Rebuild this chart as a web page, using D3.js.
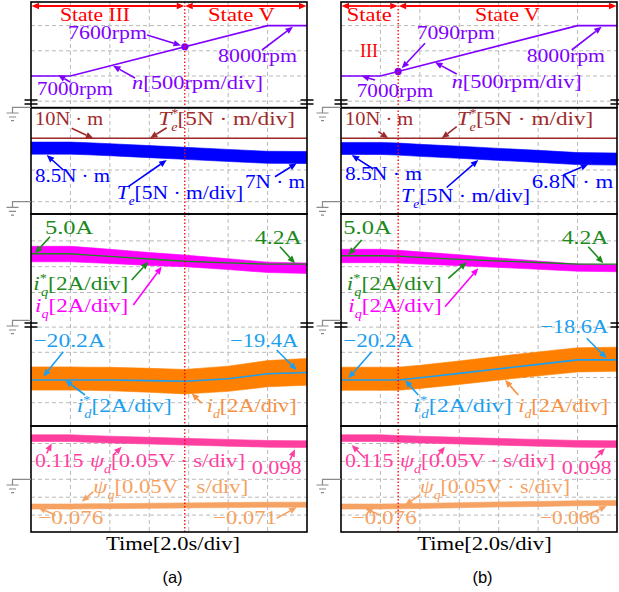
<!DOCTYPE html>
<html><head><meta charset="utf-8">
<script src="https://cdn.jsdelivr.net/npm/d3@7"></script>
<style>body{margin:0;background:#fff}svg{display:block}</style>
</head><body><svg id="c" width="619" height="592"></svg>
<script>
// ================= DATA =================
const timeTicks = [0, 2, 4, 6, 8, 10, 12, 14];          // s (2.0 s/div)
const sampleT   = [0, 2, 2.9, 4, 6, 7.8, 10, 12, 14];   // s
const stateSwitchA = 7.8, stateSwitchB = 2.9;           // s
const speedT = [0, 2, 12, 14];
const speedA = [7000, 7000, 8000, 8000];                // rpm
const speedB = [7000, 7000, 8000, 8000];
const teRef  = 10;                                      // N·m
const teA    = [8.45, 8.45, 8.35, 8.2, 7.9, 7.63, 7.3, 7.0, 6.97];
const teB    = [8.4, 8.4, 8.3, 8.1, 7.8, 7.5, 7.15, 6.8, 6.72];
const teSpread = 0.95;
const iqRefA = [5.0, 5.0, 4.9, 4.8, 4.6, 4.42, 4.3, 4.2, 4.2];      // A
const iqA    = [4.98, 4.98, 4.9, 4.8, 4.6, 4.45, 4.2, 3.95, 3.88];
const iqSpreadA = [0.6, 0.6, 0.58, 0.55, 0.5, 0.45, 0.42, 0.4, 0.4];
const iqRefB = [4.85, 4.85, 4.82, 4.72, 4.57, 4.45, 4.32, 4.2, 4.2];
const iqB    = [4.83, 4.83, 4.78, 4.68, 4.5, 4.33, 4.12, 3.93, 3.88];
const iqSpreadB = [0.52, 0.52, 0.5, 0.47, 0.42, 0.37, 0.32, 0.28, 0.27];
const idRefA = [-20.2, -20.2, -20.2, -20.2, -20.25, -20.3, -20.1, -19.7, -19.6];
const idA    = [-20.08, -20.08, -20.1, -20.12, -20.22, -20.33, -20.1, -19.7, -19.55];
const idSpreadA = [0.92, 0.92, 0.92, 0.93, 0.95, 0.97, 1.0, 1.04, 1.06];
const idRefB = [-20.2, -20.2, -20.2, -20.02, -19.67, -19.35, -18.96, -18.6, -18.6];
const idB    = [-20.1, -20.1, -20.1, -19.95, -19.62, -19.3, -18.92, -18.6, -18.55];
const idSpreadB = [0.92, 0.92, 0.92, 0.92, 0.93, 0.94, 0.95, 0.96, 0.96];
const psiDA = [0.115, 0.115, 0.113, 0.111, 0.108, 0.105, 0.102, 0.099, 0.098];   // V·s
const psiDB = [0.115, 0.115, 0.113, 0.111, 0.108, 0.105, 0.102, 0.099, 0.098];
const psiQA = [-0.076, -0.076, -0.0755, -0.075, -0.074, -0.073, -0.072, -0.071, -0.071];
const psiQB = [-0.076, -0.076, -0.0755, -0.0745, -0.0725, -0.0705, -0.069, -0.067, -0.066];
const psiDSpread = 0.0094, psiQSpread = 0.007;
// grid levels (one division each)
const speedGrid = [6500, 7000, 7500, 8000];
const torqueGrid = [0, 5, 10];
const iqGrid = [2, 4, 6];
const idGrid = [-16, -18, -20, -22];
const psiGrid = [0.1, 0.05, 0, -0.05, -0.1];

// ================= LAYOUT =================
const C = {
  red: '#ff0000', purple: '#7f00ff', teRef: '#9e2b2b', te: '#0000ff',
  iqRef: '#1b8a1b', iq: '#ff00ff', idRef: '#1c9ff0', id: '#ff8000', idTxt: '#f89040',
  psiD: '#ff3fa0', psiQ: '#f5a262', grid: '#b9b9b9', gnd: '#8a8a8a'
};
const PW = 276;
const boxes = [[2, 107.7], [107.7, 214], [214, 426], [426, 532]];
const yA = d3.scaleLinear().domain([7000, 8000]).range([76, 25.6]);
const yB = d3.scaleLinear().domain([0, 10]).range([201.7, 138.3]);
const yQ = d3.scaleLinear().domain([4, 5]).range([266.7, 253.8]);
const yD = d3.scaleLinear().domain([-20, -18]).range([377.5, 352.3]);
const yP = d3.scaleLinear().domain([0, 0.1]).range([479.3, 443.5]);

const svg = d3.select('#c');
const FONT = "'Liberation Serif','DejaVu Serif',serif";

const R = (t) => [t, 'r'], I = (t) => [t, 'i'], SB = (t, dx) => [t, 'b', dx], SP = (t) => [t, 'p'];

const labelsA = [
  {s:[R('State III')], c:C.red, x:29, y:20.7, w:70},
  {s:[R('State V')], c:C.red, x:177, y:20.7, w:67},
  {s:[R('7600rpm')], c:C.purple, x:37, y:39.3, w:79, ar:[116,35,150,45.5]},
  {s:[R('8000rpm')], c:C.purple, x:187, y:61.7, w:79, ar:[231,50,262,26.7]},
  {s:[R('7000rpm')], c:C.purple, x:6, y:95, w:76, ar:[39,82,27,75]},
  {s:[I('n'), R('[500rpm/div]')], c:C.purple, x:101, y:89, w:131, ar:[104,78,82,65.7]},
  {s:[R('10N · m')], c:C.teRef, x:4, y:125, w:68, ar:[40.7,128.3,62.3,138.3]},
  {s:[I('T'), SP('*'), SB('e', -6), R('[5N · m/div]')], c:C.teRef, x:127.3, y:125, w:136.7, ar:[135.7,127.7,119,138.3]},
  {s:[R('8.5N · m')], c:C.te, x:4, y:182.3, w:75, ar:[32.3,170,15.7,155]},
  {s:[I('T'), SB('e'), R('[5N · m/div]')], c:C.te, x:85.7, y:199.3, w:126.6, ar:[97.3,186.7,135.7,160]},
  {s:[R('7N · m')], c:C.te, x:214, y:188.3, w:60, ar:[244,176.7,265.7,163.3]},
  {s:[R('5.0A')], c:C.iqRef, x:14, y:234, w:48.3, ar:[19,236.7,4,253.3]},
  {s:[R('4.2A')], c:C.iqRef, x:224, y:244, w:46.7, ar:[249,246.7,264,263.3]},
  {s:[I('i'), SP('*'), SB('q', -5), R('[2A/div]')], c:C.iqRef, x:2.3, y:290, w:95, ar:[100.7,280,117.3,261.7]},
  {s:[I('i'), SB('q'), R('[2A/div]')], c:C.iq, x:4, y:311.7, w:93.3, ar:[102.3,305,130.7,266.7]},
  {s:[R('−20.2A')], c:C.idRef, x:2.3, y:346.7, w:71.7, ar:[32.3,351.7,12.3,376.7]},
  {s:[R('−19.4A')], c:C.idRef, x:199, y:346.7, w:68.3, ar:[245.7,350,265.7,370]},
  {s:[I('i'), SP('*'), SB('d', -5), R('[2A/div]')], c:C.idRef, x:45.7, y:411.7, w:95, ar:[54,395,34,380]},
  {s:[I('i'), SB('d'), R('[2A/div]')], c:C.idTxt, x:175.7, y:411.7, w:90, ar:[170.7,403.3,160.7,393.3]},
  {s:[R('0.115')], c:C.psiD, x:4, y:466.7, w:48.3, ar:[15.7,453.3,20.7,443.3]},
  {s:[I('ψ'), SB('d'), R('[0.05V · s/div]')], c:C.psiD, x:59, y:466.7, w:155, ar:[82.3,455,90.7,446.7]},
  {s:[R('0.098')], c:C.psiD, x:220.7, y:474, w:50, ar:[259,460,264,449.3]},
  {s:[I('ψ'), SB('q'), R('[0.05V · s/div]')], c:C.psiQ, x:62.3, y:492.7, w:155, ar:[62.3,491.7,50.7,501.7]},
  {s:[R('−0.076')], c:C.psiQ, x:7.3, y:524, w:65, ar:[24,515,7.3,507.3]},
  {s:[R('−0.071')], c:C.psiQ, x:182.3, y:524, w:63.4, ar:[245.7,518.3,265.7,507.3]},
  {s:[R('Time[2.0s/div]')], c:'#000', x:75, y:550, w:134}
];
const labelsB = [
  {s:[R('State')], c:C.red, x:5.7, y:20.7, w:45},
  {s:[R('III')], c:C.red, x:19, y:56.7, w:18},
  {s:[R('State V')], c:C.red, x:134, y:20.7, w:65},
  {s:[R('7090rpm')], c:C.purple, x:75.7, y:39.3, w:78.3, ar:[84,43.3,60.7,68.3]},
  {s:[R('8000rpm')], c:C.purple, x:185.7, y:62, w:78.3, ar:[230.7,50,260.7,26.7]},
  {s:[R('7000rpm')], c:C.purple, x:15.7, y:97, w:76.6, ar:[34,80,20.7,76]},
  {s:[I('n'), R('[500rpm/div]')], c:C.purple, x:110.7, y:88.3, w:130, ar:[115.7,74,94,62.3]},
  {s:[R('10N · m')], c:C.teRef, x:4, y:125, w:68.3, ar:[37.3,131.7,47.3,138.3]},
  {s:[I('T'), SP('*'), SB('e', -6), R('[5N · m/div]')], c:C.teRef, x:115.7, y:125, w:136.6, ar:[115.7,126.7,100.7,138.3]},
  {s:[R('8.5N · m')], c:C.te, x:4, y:180.3, w:77, ar:[32.3,169,10.7,155]},
  {s:[I('T'), SB('e'), R('[5N · m/div]')], c:C.te, x:60, y:202.2, w:129, ar:[105.7,187.5,137.3,160]},
  {s:[R('6.8N · m')], c:C.te, x:190.7, y:188.3, w:81.6, ar:[222.3,175,247.3,164.3]},
  {s:[R('5.0A')], c:C.iqRef, x:2.3, y:234, w:48.4, ar:[20.7,240,7.3,255]},
  {s:[R('4.2A')], c:C.iqRef, x:220.7, y:244, w:46.6, ar:[247.3,246.7,262.3,263.3]},
  {s:[I('i'), SP('*'), SB('q', -5), R('[2A/div]')], c:C.iqRef, x:5.7, y:290, w:95, ar:[107.3,278.3,125.7,262.3]},
  {s:[I('i'), SB('q'), R('[2A/div]')], c:C.iq, x:7.3, y:311.7, w:93.4, ar:[104,306.7,137.3,268.3]},
  {s:[R('−18.6A')], c:C.idRef, x:199, y:333.3, w:68.3, ar:[245.7,338.3,265.7,358.3]},
  {s:[R('−20.2A')], c:C.idRef, x:2.3, y:346.7, w:70, ar:[30.7,351.7,7.3,378.3]},
  {s:[I('i'), SP('*'), SB('d', -5), R('[2A/div]')], c:C.idRef, x:72.3, y:411.7, w:98.4, ar:[77.3,395,64,380]},
  {s:[I('i'), SB('d'), R('[2A/div]')], c:C.idTxt, x:177.3, y:411.7, w:90, ar:[177.3,395,164,380]},
  {s:[R('0.115')], c:C.psiD, x:4, y:466.7, w:48.3, ar:[24,458.3,10.7,445]},
  {s:[I('ψ'), SB('d'), R('[0.05V · s/div]')], c:C.psiD, x:59, y:466.7, w:155, ar:[95.7,456.7,104,446.7]},
  {s:[R('0.098')], c:C.psiD, x:220.7, y:474, w:50, ar:[254,458.3,264,448.3]},
  {s:[I('ψ'), SB('q'), R('[0.05V · s/div]')], c:C.psiQ, x:79, y:492.7, w:150, ar:[79,495,64,505]},
  {s:[R('−0.076')], c:C.psiQ, x:10.7, y:524, w:65, ar:[39,515,24,508.3]},
  {s:[R('−0.066')], c:C.psiQ, x:199, y:524, w:60, ar:[242.3,516.7,265.7,506]},
  {s:[R('Time[2.0s/div]')], c:'#000', x:76.3, y:550, w:134.4}
];

const panels = [
  {x0:31, sw:stateSwitchA, speed:speedA, te:teA, iqRef:iqRefA, iq:iqA, iqS:iqSpreadA,
   idRef:idRefA, id:idA, idS:idSpreadA, pd:psiDA, pq:psiQA, labels:labelsA, tag:'(a)'},
  {x0:341, sw:stateSwitchB, speed:speedB, te:teB, iqRef:iqRefB, iq:iqB, iqS:iqSpreadB,
   idRef:idRefB, id:idB, idS:idSpreadB, pd:psiDB, pq:psiQB, labels:labelsB, tag:'(b)'}
];

function arrow(g, a, x0, col, w) {
  const [x1, y1, x2, y2] = [a[0] + x0, a[1], a[2] + x0, a[3]];
  const ang = Math.atan2(y2 - y1, x2 - x1), L = 7.5, hw = 3.2;
  const bx = x2 - L * Math.cos(ang), by = y2 - L * Math.sin(ang);
  g.append('line').attr('x1', x1).attr('y1', y1).attr('x2', bx).attr('y2', by)
    .attr('stroke', col).attr('stroke-width', w || 1.6);
  g.append('path').attr('fill', col).attr('d',
    `M${x2},${y2}L${bx + hw * Math.sin(ang)},${by - hw * Math.cos(ang)}L${bx - hw * Math.sin(ang)},${by + hw * Math.cos(ang)}Z`);
}

function addLabel(g, L, x0) {
  const t = g.append('text').attr('x', x0 + L.x).attr('y', L.y).attr('fill', L.c)
    .attr('font-family', FONT).attr('font-size', 19.5);
  let shift = 0;
  L.s.forEach(([txt, type, dx]) => {
    const ts = t.append('tspan').text(txt);
    const target = type === 'b' ? 6 : type === 'p' ? -8 : 0;
    ts.attr('dy', target - shift); shift = target;
    if (type === 'i' || type === 'b') ts.attr('font-style', 'italic');
    if (type === 'b' || type === 'p') ts.attr('font-size', 12);
    if (dx) ts.attr('dx', dx);
  });
  if (L.w) t.attr('textLength', L.w).attr('lengthAdjust', 'spacingAndGlyphs');
}

function ground(g, xf, y0) {
  const xg = xf - 18.5;
  g.append('path').attr('fill', 'none').attr('stroke', C.gnd).attr('stroke-width', 1.2)
    .attr('d', `M${xf},${y0}H${xg}V${y0 + 5.7}M${xg - 6},${y0 + 5.7}H${xg + 6}M${xg - 3.5},${y0 + 9.7}H${xg + 3.5}M${xg - 1.5},${y0 + 13.4}H${xg + 1.5}`);
}
function capMark(g, x, y) {
  g.append('path').attr('stroke', '#000').attr('stroke-width', 1.5)
    .attr('d', `M${x - 6.5},${y}H${x + 6.5}M${x - 6.5},${y + 4}H${x + 6.5}`);
}

panels.forEach((P, pi) => {
  const x = d3.scaleLinear().domain([0, 14]).range([P.x0, P.x0 + PW]);
  const g = svg.append('g');
  const cid = 'clip' + pi;
  g.append('clipPath').attr('id', cid).append('rect')
    .attr('x', P.x0).attr('y', boxes[0][0]).attr('width', PW).attr('height', boxes[3][1] - boxes[0][0]);
  const plot = g.append('g').attr('clip-path', `url(#${cid})`);

  // grid
  const grid = plot.append('g').attr('stroke', C.grid).attr('stroke-width', 1).attr('stroke-dasharray', '4,3');
  timeTicks.slice(1, -1).forEach(t => grid.append('line').attr('x1', x(t)).attr('x2', x(t)).attr('y1', boxes[0][0]).attr('y2', boxes[3][1]));
  const hgrid = (vals, sc, box) => vals.forEach(v => {
    const yy = sc(v); if (yy > box[0] + 1 && yy < box[1] - 1)
      grid.append('line').attr('x1', P.x0).attr('x2', P.x0 + PW).attr('y1', yy).attr('y2', yy);
  });
  hgrid(speedGrid, yA, boxes[0]);
  hgrid(torqueGrid, yB, boxes[1]);
  hgrid(iqGrid, yQ, [boxes[2][0], 318]);
  hgrid(idGrid, yD, [318, boxes[2][1]]);
  hgrid(psiGrid, yP, boxes[3]);

  const band = (vals, spread, sc, col) => {
    const sp = Array.isArray(spread) ? spread : vals.map(() => spread);
    const pts = sampleT.map((t, i) => [t, vals[i], sp[i]]);
    plot.append('path').datum(pts).attr('fill', col).attr('stroke', col).attr('stroke-width', 1).attr('stroke-opacity', 0.6)
      .attr('d', d3.area().x(d => x(d[0])).y0(d => sc(d[1] - d[2])).y1(d => sc(d[1] + d[2])));
  };
  const line = (ts, vals, sc, col, w) => {
    plot.append('path').datum(ts.map((t, i) => [t, vals[i]])).attr('fill', 'none').attr('stroke', col).attr('stroke-width', w)
      .attr('d', d3.line().x(d => x(d[0])).y(d => sc(d[1])));
  };

  // speed
  line(speedT, P.speed, yA, C.purple, 1.6);
  const spAt = d3.scaleLinear().domain(speedT).range(P.speed);
  plot.append('circle').attr('cx', x(P.sw)).attr('cy', yA(spAt(P.sw))).attr('r', 3.6).attr('fill', C.purple);
  // torque
  line([0, 14], [teRef, teRef], yB, C.teRef, 1.6);
  band(P.te, teSpread, yB, C.te);
  // iq
  band(P.iq, P.iqS, yQ, C.iq);
  line(sampleT, P.iqRef, yQ, C.iqRef, 1.4);
  // id
  band(P.id, P.idS, yD, C.id);
  line(sampleT, P.idRef, yD, C.idRef, 1.6);
  // flux
  band(P.pd, psiDSpread, yP, C.psiD);
  band(P.pq, psiQSpread, yP, C.psiQ);

  // state switch line
  plot.append('line').attr('x1', x(P.sw)).attr('x2', x(P.sw)).attr('y1', boxes[0][0]).attr('y2', boxes[3][1])
    .attr('stroke', C.red).attr('stroke-width', 1.3).attr('stroke-dasharray', '1.5,2');

  // state arrows
  const sy = 6;
  [[P.x0, x(P.sw)], [x(P.sw), P.x0 + PW]].forEach(([a, b]) => {
    arrow(g, [a + (b - a) / 2 - P.x0, sy, a - P.x0 + 0.5, sy], P.x0, C.red, 1.8);
    arrow(g, [a + (b - a) / 2 - P.x0, sy, b - P.x0 - 0.5, sy], P.x0, C.red, 1.8);
  });

  // frames
  boxes.forEach(b => g.append('rect').attr('x', P.x0).attr('y', b[0]).attr('width', PW).attr('height', b[1] - b[0])
    .attr('fill', 'none').attr('stroke', '#000').attr('stroke-width', 1.6));

  // markers
  ground(g, P.x0, boxes[1][0] - 0.4);
  ground(g, P.x0, yB(0));
  ground(g, P.x0, yQ(0) + 2);
  ground(g, P.x0, yP(0));
  [P.x0, P.x0 + PW].forEach(xx => { capMark(g, xx, 100); capMark(g, xx, 323); });

  // annotations
  P.labels.forEach(L => {
    if (L.ar) arrow(g, L.ar, P.x0, L.c);
    addLabel(g, L, P.x0);
  });
  g.append('text').attr('x', P.x0 + 141.5).attr('y', 583).attr('text-anchor', 'middle')
    .attr('font-family', "'Liberation Sans',Arial,sans-serif").attr('font-size', 16.5).text(P.tag);
});
</script></body></html>
